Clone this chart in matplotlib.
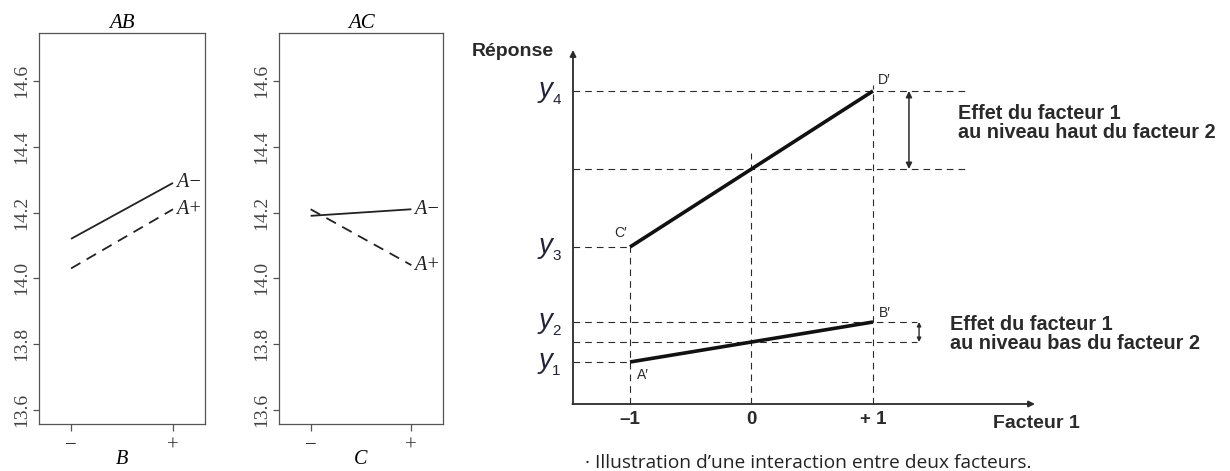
import matplotlib
matplotlib.use("Agg")
import matplotlib.pyplot as plt

# interaction plots (left)
levels_pm = ["\u2212", "+"]
ab_a_minus = [14.12, 14.29]
ab_a_plus = [14.03, 14.21]
ac_a_minus = [14.19, 14.21]
ac_a_plus = [14.21, 14.04]
y_ticks = [13.6, 13.8, 14.0, 14.2, 14.4, 14.6]

# schematic (right)
facteur1 = [-1, 1]
low_f2 = [4.2, 8.2]     # y1, y2
high_f2 = [15.7, 31.3]  # y3, y4
x_ticks = [-1, 0, 1]
x_tick_labels = ["\u20131", "0", "+ 1"]

serif = ["Liberation Serif", "DejaVu Serif"]
sans = ["Liberation Sans", "DejaVu Sans"]

fig = plt.figure(figsize=(12.3, 4.71), dpi=100)
W, H = 1230, 471


def px_axes(x0, x1, ytop, ybot):
    return fig.add_axes([x0 / W, (H - ybot) / H, (x1 - x0) / W, (ybot - ytop) / H])


def interaction(ax, title, xlabel, a_minus, a_plus):
    xs = [1, 2]
    ax.plot(xs, a_minus, color="#222222", lw=1.3, solid_capstyle="butt")
    ax.plot(xs, a_plus, color="#222222", lw=1.3, linestyle=(0, (6, 4)))
    ax.text(2.03, a_minus[1], "A\u2212", fontsize=14.5, fontstyle="italic",
            family=serif, va="center", ha="left", color="#222222")
    ax.text(2.03, a_plus[1], "A+", fontsize=14.5, fontstyle="italic",
            family=serif, va="center", ha="left", color="#222222")
    ax.set_xlim(0.686, 2.314)
    ax.set_ylim(13.557, 14.746)
    ax.set_xticks(xs)
    ax.set_xticklabels(levels_pm, family=serif, fontsize=15, color="#333333")
    ax.set_yticks(y_ticks)
    ax.set_yticklabels([f"{v:.1f}" for v in y_ticks], family=serif, fontsize=14,
                       rotation=90, va="center", color="#444444")
    ax.tick_params(axis="x", length=5, width=0.9, color="#555555", pad=4)
    ax.tick_params(axis="y", length=4.5, width=0.9, color="#555555", pad=2)
    for s in ax.spines.values():
        s.set_color("#555555")
        s.set_linewidth(0.9)
    ax.set_title(title, family=serif, fontstyle="italic", fontsize=15, pad=3)
    ax.set_xlabel(xlabel, family=serif, fontstyle="italic", fontsize=14.5, labelpad=-4)


ax1 = px_axes(39, 205, 33, 424)
interaction(ax1, "AB", "B", ab_a_minus, ab_a_plus)
ax2 = px_axes(279, 443, 33, 424)
interaction(ax2, "AC", "C", ac_a_minus, ac_a_plus)

# ---- schematic diagram ----
ax = px_axes(573, 1230, 40, 404)
ax.set_xlim(-1.469, 3.938)
ax.set_ylim(0, 36.4)
ax.axis("off")

x_ax = -1.469
dark = "#2a2a2a"
dash = dict(color=dark, lw=0.8, linestyle=(0, (6, 4.5)))
txt = dict(family=sans, color="#2a2a2a")

y1, y2 = low_f2
y3, y4 = high_f2
mid_low = sum(low_f2) / 2
mid_high = sum(high_f2) / 2

# guide lines
ax.plot([x_ax, 1.766], [y4, y4], **dash)
ax.plot([x_ax, 1.766], [mid_high, mid_high], **dash)
ax.plot([x_ax, facteur1[0]], [y3, y3], **dash)
ax.plot([x_ax, 1.362], [y2, y2], **dash)
ax.plot([x_ax, 1.362], [mid_low, mid_low], **dash)
ax.plot([x_ax, facteur1[0]], [y1, y1], **dash)
ax.plot([-1, -1], [0, y3], **dash)
ax.plot([0, 0], [0, 25.1], **dash)
ax.plot([1, 1], [0, 31.9], **dash)

# response lines
ax.plot(facteur1, low_f2, color="#111111", lw=2.6, solid_capstyle="butt")
ax.plot(facteur1, high_f2, color="#111111", lw=2.6, solid_capstyle="butt")

# axes with arrows
ax.annotate("", xy=(x_ax, 35.4), xytext=(x_ax, 0),
            arrowprops=dict(arrowstyle="-|>", color=dark, lw=1.3,
                            mutation_scale=9, shrinkA=0, shrinkB=0))
ax.annotate("", xy=(2.333, 0), xytext=(x_ax - 0.005, 0),
            arrowprops=dict(arrowstyle="-|>", color=dark, lw=1.3,
                            mutation_scale=9, shrinkA=0, shrinkB=0))

# effect arrows
ax.annotate("", xy=(1.296, y4), xytext=(1.296, mid_high),
            arrowprops=dict(arrowstyle="<|-|>", color=dark, lw=1.1,
                            mutation_scale=9, shrinkA=0, shrinkB=0))
ax.annotate("", xy=(1.379, y2), xytext=(1.379, mid_low),
            arrowprops=dict(arrowstyle="<|-|>", color=dark, lw=1.0,
                            mutation_scale=6, shrinkA=0, shrinkB=0))

# tick labels
for xv, lab in zip(x_ticks, x_tick_labels):
    ax.text(xv, -1.6, lab, ha="center", va="center", fontsize=13.5,
            fontweight="bold", **txt)
ax.text(1.988, -2.0, "Facteur 1", ha="left", va="center", fontsize=14,
        fontweight="bold", **txt)
ax.text(-1.626, 35.3, "Réponse", ha="right", va="center", fontsize=14,
        fontweight="bold", **txt)

# y labels: italic y with a small subscript
for yv, k in zip([y1, y2, y3, y4], [1, 2, 3, 4]):
    ax.text(-1.635, yv + 0.1, "y", ha="right", va="center", fontsize=20,
            fontstyle="italic", family=sans, color="#22223a", clip_on=False)
    ax.text(-1.64, yv - 0.9, str(k), ha="left", va="center", fontsize=11,
            family=sans, color="#22223a", clip_on=False)

# point labels
ax.text(1.04, 32.4, "D\u2032", ha="left", va="center", fontsize=10, **txt)
ax.text(1.05, 9.1, "B\u2032", ha="left", va="center", fontsize=10, **txt)
ax.text(-0.94, 2.9, "A\u2032", ha="left", va="center", fontsize=10, **txt)
ax.text(-1.08, 17.1, "C\u2032", ha="center", va="center", fontsize=10, **txt)

# effect texts
ax.text(1.70, 28.1, "Effet du facteur 1\nau niveau haut du facteur 2",
        ha="left", va="center", fontsize=14.3, fontweight="bold",
        linespacing=1.05, **txt)
ax.text(1.634, 7.0, "Effet du facteur 1\nau niveau bas du facteur 2",
        ha="left", va="center", fontsize=14.3, fontweight="bold",
        linespacing=1.05, **txt)

# caption
ax.text(-1.37, -5.9, "\u00b7 Illustration d\u2019une interaction entre deux facteurs.",
        ha="left", va="center", fontsize=13.8, family=["Open Sans", "DejaVu Sans"],
        color="#222222", clip_on=False)

fig.savefig("out.png", dpi=100)
